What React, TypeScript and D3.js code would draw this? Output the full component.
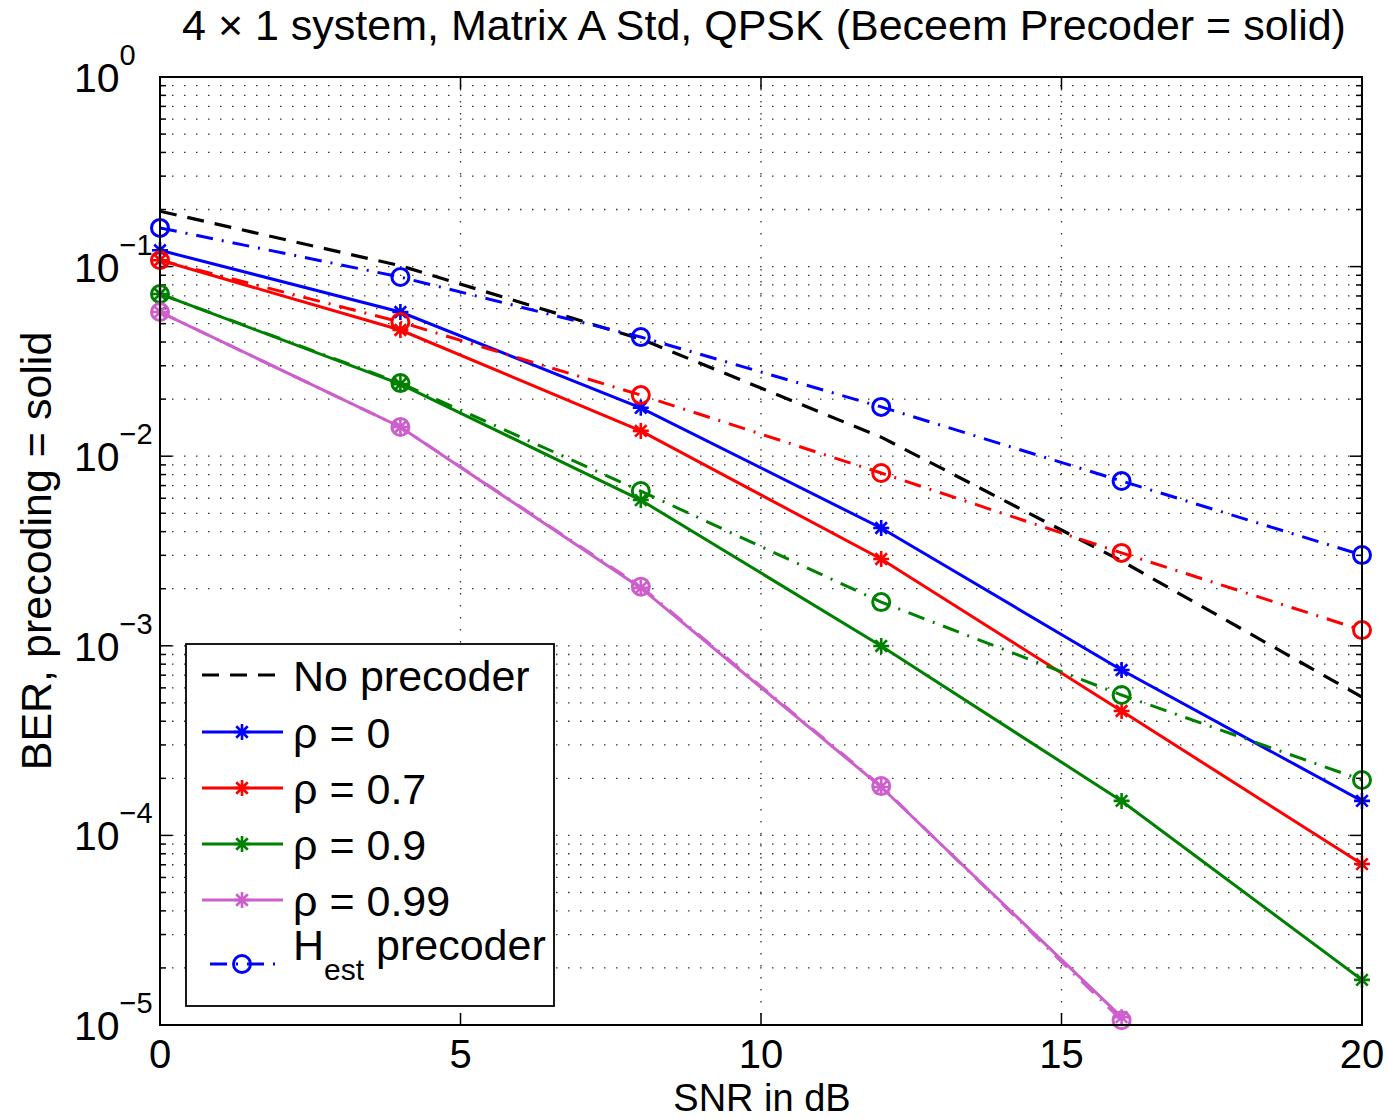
import React from "react";
import * as d3 from "d3";

const snr = [0, 4, 8, 12, 16, 20];
const snrPurple = [0, 4, 8, 12, 16];
const noPrecoder = [0.196, 0.101, 0.0415, 0.0126, 0.0028, 0.000537];
const rho0 = [0.122, 0.0576, 0.018, 0.00418, 0.000745, 0.000152];
const rho07 = [0.108, 0.0463, 0.0136, 0.00287, 0.000453, 7.06e-5];
const rho09 = [0.0717, 0.024, 0.00587, 0.000998, 0.000152, 1.73e-5];
const rho099 = [0.0576, 0.01426, 0.00202, 0.00018, 1.1e-5];
const hest0 = [0.16, 0.0881, 0.0425, 0.0182, 0.0074, 0.00301];
const hest07 = [0.108, 0.051, 0.021, 0.00815, 0.00309, 0.00121];
const hest09 = [0.0717, 0.0243, 0.00655, 0.0017, 0.00055, 0.000196];
const hest099 = [0.0576, 0.01426, 0.00205, 0.000182, 1.06e-5];

const xTicks = [0, 5, 10, 15, 20];
const yDecades = [0, -1, -2, -3, -4, -5];
const legendLabels = ["No precoder", "ρ = 0", "ρ = 0.7", "ρ = 0.9", "ρ = 0.99"];

const BLUE = "#0000ff";
const RED = "#ff0000";
const GREEN = "#008000";
const PURPLE = "#cc5fcc";

const W = 1388;
const H = 1119;
const L = 160, R = 1362, T = 77, B = 1025;
const FONT = "'Liberation Sans', Arial, Helvetica, sans-serif";
const DASH = "17,11";
const DASHDOT = "17,9,2,9";

type Series = { xs: number[]; ys: number[]; color: string; dash: string | null; marker: "star" | "circle" | null };

const series: Series[] = [
  { xs: snr, ys: noPrecoder, color: "#000", dash: DASH, marker: null },
  { xs: snr, ys: rho0, color: BLUE, dash: null, marker: "star" },
  { xs: snr, ys: rho07, color: RED, dash: null, marker: "star" },
  { xs: snr, ys: rho09, color: GREEN, dash: null, marker: "star" },
  { xs: snrPurple, ys: rho099, color: PURPLE, dash: null, marker: "star" },
  { xs: snr, ys: hest0, color: BLUE, dash: DASHDOT, marker: "circle" },
  { xs: snr, ys: hest07, color: RED, dash: DASHDOT, marker: "circle" },
  { xs: snr, ys: hest09, color: GREEN, dash: DASHDOT, marker: "circle" },
  { xs: snrPurple, ys: hest099, color: PURPLE, dash: DASHDOT, marker: "circle" },
];

function Star({ x, y, color }: { x: number; y: number; color: string }) {
  const s = 8;
  const d = s * 0.72;
  return (
    <path
      d={`M${x - s},${y}L${x + s},${y}M${x},${y - s}L${x},${y + s}M${x - d},${y - d}L${x + d},${y + d}M${x - d},${y + d}L${x + d},${y - d}`}
      stroke={color}
      strokeWidth={2.6}
      fill="none"
    />
  );
}

function Marker({ type, x, y, color }: { type: string | null; x: number; y: number; color: string }) {
  if (type === "star") return <Star x={x} y={y} color={color} />;
  if (type === "circle") return <circle cx={x} cy={y} r={8.5} stroke={color} strokeWidth={3} fill="none" />;
  return null;
}

export default function App() {
  const x = d3.scaleLinear().domain([0, 20]).range([L, R]);
  const y = d3.scaleLog().domain([1e-5, 1]).range([B, T]);
  const line = d3
    .line<[number, number]>()
    .x((d) => x(d[0]))
    .y((d) => y(d[1]));

  const minorVals: number[] = [];
  for (let e = -5; e < 0; e++) {
    for (let m = 1; m <= 9; m++) minorVals.push(m * Math.pow(10, e));
  }
  minorVals.push(1);

  const legendRows = [675, 732, 788, 844, 900];

  return (
    <svg width={W} height={H} style={{ position: "absolute", left: 0, top: 0, background: "#fff" }} fontFamily={FONT}>
      <rect x={0} y={0} width={W} height={H} fill="#fff" />
      <defs>
        <clipPath id="plotclip">
          <rect x={L} y={T} width={R - L} height={B - T} />
        </clipPath>
      </defs>
      {/* grid */}
      <g stroke="#333" strokeWidth={1.3} strokeDasharray="1.5,10.5">
        {minorVals.map((v, i) => (
          <line key={"h" + i} x1={L} x2={R} y1={y(v)} y2={y(v)} />
        ))}
        {xTicks.map((t) => (
          <line key={"v" + t} x1={x(t)} x2={x(t)} y1={T} y2={B} />
        ))}
      </g>
      {/* ticks */}
      <g stroke="#000" strokeWidth={1.5}>
        {minorVals.map((v, i) => {
          const major = Math.abs(Math.log10(v) - Math.round(Math.log10(v))) < 1e-9;
          const len = major ? 12 : 6;
          return (
            <g key={"t" + i}>
              <line x1={L} x2={L + len} y1={y(v)} y2={y(v)} />
              <line x1={R} x2={R - len} y1={y(v)} y2={y(v)} />
            </g>
          );
        })}
        {xTicks.map((t) => (
          <g key={"xt" + t}>
            <line x1={x(t)} x2={x(t)} y1={B} y2={B - 12} />
            <line x1={x(t)} x2={x(t)} y1={T} y2={T + 12} />
          </g>
        ))}
      </g>
      {/* data */}
      <g clipPath="url(#plotclip)">
        {series.map((s, i) => (
          <path
            key={"l" + i}
            d={line(s.xs.map((xv, j) => [xv, s.ys[j]] as [number, number])) || ""}
            stroke={s.color}
            strokeWidth={i === 0 ? 3.2 : 3}
            fill="none"
            strokeDasharray={s.dash || undefined}
          />
        ))}
      </g>
      <g>
        {series.map((s, i) =>
          s.xs.map((xv, j) => <Marker key={"m" + i + "-" + j} type={s.marker} x={x(xv)} y={y(s.ys[j])} color={s.color} />)
        )}
      </g>
      {/* axes box */}
      <rect x={L} y={T} width={R - L} height={B - T} fill="none" stroke="#000" strokeWidth={2} />
      {/* tick labels */}
      <g fontSize={41} fill="#000">
        {xTicks.map((t) => (
          <text key={"xl" + t} x={x(t)} y={1068} fontSize={40} textAnchor="middle">
            {t}
          </text>
        ))}
        {yDecades.map((e) => (
          <text key={"yl" + e} x={74} y={y(Math.pow(10, e)) + 15}>
            10
            <tspan fontSize={29} dy={-27}>
              {e === 0 ? "0" : "\u2212" + Math.abs(e)}
            </tspan>
          </text>
        ))}
      </g>
      {/* title & labels */}
      <text x={764} y={40} textAnchor="middle" fontSize={43}>
        4 × 1 system, Matrix A Std, QPSK (Beceem Precoder = solid)
      </text>
      <text x={762} y={1111} textAnchor="middle" fontSize={38}>
        SNR in dB
      </text>
      <text transform="translate(51,551) rotate(-90)" textAnchor="middle" fontSize={43}>
        BER, precoding = solid
      </text>
      {/* legend */}
      <rect x={186} y={644} width={368} height={362} fill="#fff" stroke="#000" strokeWidth={1.8} />
      {legendRows.map((ly, i) => {
        const s = series[i];
        return (
          <g key={"lg" + i}>
            <line x1={202} x2={283} y1={ly} y2={ly} stroke={s.color} strokeWidth={3} strokeDasharray={s.dash || undefined} />
            <Marker type={s.marker} x={242} y={ly} color={s.color} />
            <text x={293} y={ly + 16} fontSize={43}>
              {legendLabels[i]}
            </text>
          </g>
        );
      })}
      <g>
        <line x1={202} x2={283} y1={964} y2={964} stroke={BLUE} strokeWidth={3} strokeDasharray={DASHDOT} strokeDashoffset={-8} />
        <Marker type="circle" x={242} y={964} color={BLUE} />
        <text x={293} y={960} fontSize={43}>
          H
          <tspan fontSize={30} dy={20}>est</tspan>
          <tspan dy={-20}> precoder</tspan>
        </text>
      </g>
    </svg>
  );
}
